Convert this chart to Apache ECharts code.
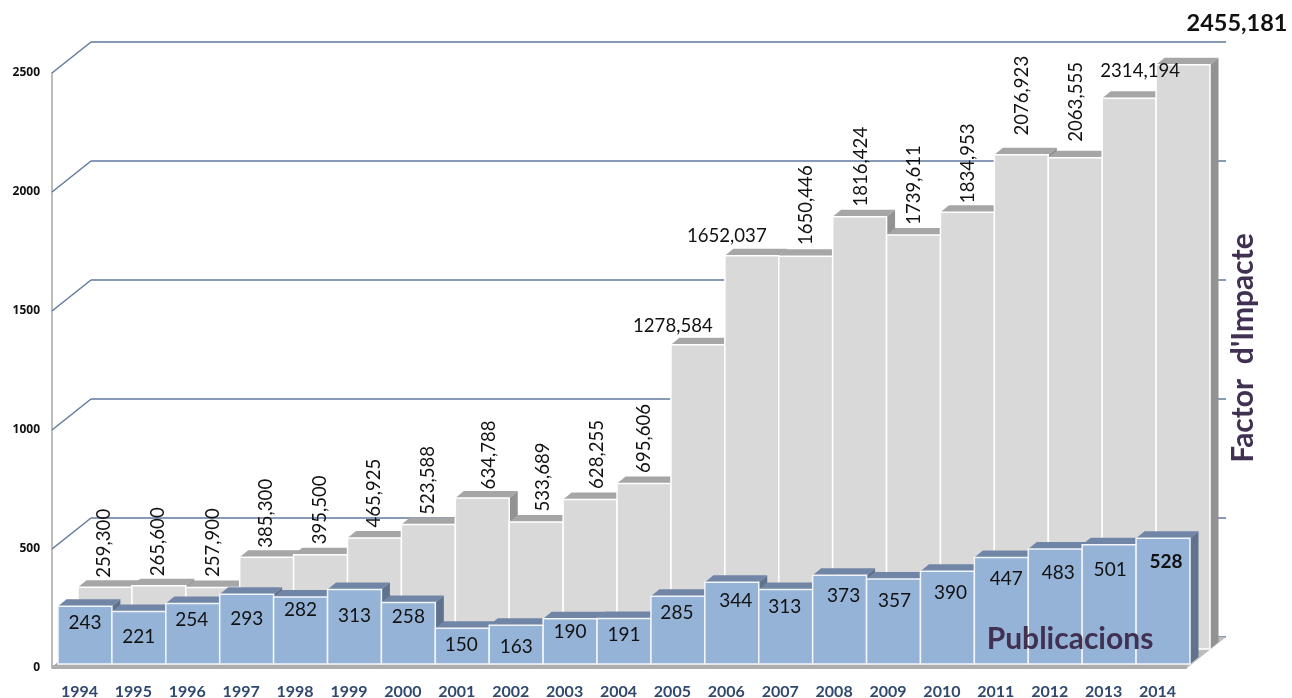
<!DOCTYPE html>
<html>
<head>
<meta charset="utf-8">
<style>html,body{margin:0;padding:0;background:#fff}#c{width:1292px;height:698px}body{overflow:hidden}</style>
<script src="https://cdn.jsdelivr.net/npm/echarts@6/dist/echarts.min.js"></script>
</head>
<body>
<div id="c"></div>
<script>
// ---- data ----
const years = ['1994','1995','1996','1997','1998','1999','2000','2001','2002','2003','2004','2005','2006','2007','2008','2009','2010','2011','2012','2013','2014'];
const factorImpacte = [259.3,265.6,257.9,385.3,395.5,465.925,523.588,634.788,533.689,628.255,695.606,1278.584,1652.037,1650.446,1816.424,1739.611,1834.953,2076.923,2063.555,2314.194,2455.181];
const publicacions = [243,221,254,293,282,313,258,150,163,190,191,285,344,313,373,357,390,447,483,501,528];
const axisTicks = [0,500,1000,1500,2000,2500];

// ---- layout of the text nudges (pixels, relative to each bar's top centre) ----
const factorDx = [-1,-1,0,-1,-1,0,0,7,7,7,0,-25,-25,0,1,0,1,1,1,11,54];
const factorDy = [-44,-44,-45,-44,-45,-45,-44,-43,-45,-45,-45,-19,-20,-51,-50,-50,-49,-59,-56,-27,-41];
const factorFlat = ['2005','2006','2013','2014'];
const pubDx = [0,0,-1,0,0,0,0,-1,0,0,0,-1,4,-1,4,1,3,5,3,1,3];
const pubDy = [17,25,16,25,13,26,14,17,22,13,16,17,19,17,21,22,22,21,24,25,24];

const FONT = 'Lato';
const DEPTH = [8.5,-7];
const WALL = [39,-31];
const PUB_SHIFT = [0,-4];
const FACTOR_SHIFT = [20,-19];

function bar3d(shift, front, top, side, edge) {
  return function (params, api) {
    const bw = api.size([1,0])[0];
    const b = api.coord([api.value(0),0]);
    const t = api.coord([api.value(0),api.value(1)]);
    const l = b[0]-bw/2+shift[0], r = b[0]+bw/2+shift[0];
    const y0 = b[1]+shift[1], y1 = t[1]+shift[1];
    const dx = DEPTH[0], dy = DEPTH[1];
    return {type:'group',children:[
      {type:'polygon',shape:{points:[[r,y1],[r+dx,y1+dy],[r+dx,y0+dy],[r,y0]]},style:{fill:side}},
      {type:'polygon',shape:{points:[[l,y1],[l+dx,y1+dy],[r+dx,y1+dy],[r,y1]]},style:{fill:top}},
      {type:'rect',shape:{x:l,y:y1,width:bw,height:y0-y1},style:{fill:front,stroke:edge,lineWidth:1.5}}
    ]};
  };
}

function fmt(v){return v.toFixed(3).replace('.',',');}

const rows = (vals)=>years.map((y,i)=>[y,vals[i]]);
const chart = echarts.init(document.getElementById('c'),null,{renderer:'canvas'});
const tickRows = axisTicks.map(v=>[years[0],v]);

chart.setOption({
  animation:false,
  backgroundColor:'#fff',
  grid:[
    {left:58,top:73,width:1132,height:595,outerBoundsMode:'none'},
    {left:91,top:42,width:1135,height:595,outerBoundsMode:'none'}
  ],
  xAxis:[
    {type:'category',gridIndex:0,data:years,axisLine:{show:false},axisTick:{show:false},
     axisLabel:{interval:0,margin:16,padding:[0,11,0,0],color:'#2f4a6e',fontFamily:FONT,fontWeight:'bold',fontSize:16}},
    {type:'category',gridIndex:1,data:years,show:false}
  ],
  yAxis:[
    {type:'value',gridIndex:0,min:0,max:2500,interval:500,offset:6,
     axisLine:{show:true,lineStyle:{color:'#bcbcbc',width:2}},axisTick:{show:false},splitLine:{show:false},
     axisLabel:{margin:12,padding:[3,0,0,0],color:'#111',fontFamily:'Open Sans',fontWeight:'bold',fontSize:12,formatter:(v)=>String(v)}},
    {type:'value',gridIndex:1,min:0,max:2500,interval:500,
     axisLine:{show:false},axisTick:{show:false},axisLabel:{show:false},
     splitLine:{show:true,lineStyle:{color:'#5f7a9e',width:1.5}}}
  ],
  series:[
    {name:'wallEdges',type:'custom',xAxisIndex:0,yAxisIndex:0,clip:false,silent:true,z:2,
     data:tickRows,encode:{x:0,y:1},
     renderItem(params,api){
       const x = params.coordSys.x-6;
       const y = api.coord([api.value(0),api.value(1)])[1];
       return {type:'line',shape:{x1:x,y1:y,x2:x+WALL[0],y2:y+WALL[1]},style:{stroke:'#5f7a9e',lineWidth:1.5}};
     }},
    {name:'floor',type:'custom',xAxisIndex:0,yAxisIndex:0,clip:false,silent:true,z:2,
     data:[tickRows[0]],encode:{x:0,y:1},
     renderItem(params,api){
       const g = params.coordSys;
       const y = api.coord([api.value(0),0])[1];
       const l = g.x-6, r = g.x+g.width-3;
       return {type:'group',children:[
         {type:'polygon',shape:{points:[[l,y],[l+WALL[0],y+WALL[1]],[r+WALL[0],y+WALL[1]],[r,y]]},style:{fill:'#bdbdbd'}},
         {type:'rect',shape:{x:l,y:y-3,width:r-l,height:4},style:{fill:'#adadad'}}
       ]};
     }},
    {name:"Factor d'Impacte",type:'custom',xAxisIndex:0,yAxisIndex:0,clip:false,silent:true,z:3,
     data:rows(factorImpacte),encode:{x:0,y:1},
     renderItem:bar3d(FACTOR_SHIFT,'#d9d9d9','#a6a6a6','#929292','#ffffff')},
    {name:'Publicacions',type:'custom',xAxisIndex:0,yAxisIndex:0,clip:false,silent:true,z:4,
     data:rows(publicacions),encode:{x:0,y:1},
     renderItem:bar3d(PUB_SHIFT,'#95b3d7','#7186a6','#5f728e','#f2f5f9')},
    {name:'factorLabels',type:'custom',xAxisIndex:0,yAxisIndex:0,clip:false,silent:true,z:5,
     data:rows(factorImpacte),encode:{x:0,y:1},
     renderItem(params,api){
       const i = params.dataIndex, v = factorImpacte[i];
       const p = api.coord([api.value(0),api.value(1)]);
       const flat = factorFlat.includes(years[i]);
       const last = i===years.length-1;
       return {type:'text',x:p[0]+FACTOR_SHIFT[0]+factorDx[i],y:p[1]+FACTOR_SHIFT[1]+factorDy[i],
         rotation:flat?0:Math.PI/2,
         style:{text:fmt(v),align:'center',verticalAlign:'middle',fill:'#111',fontFamily:FONT,
           fontSize:last?23.5:18.6,fontWeight:last?'bold':'normal'}};
     }},
    {name:'pubLabels',type:'custom',xAxisIndex:0,yAxisIndex:0,clip:false,silent:true,z:5,
     data:rows(publicacions),encode:{x:0,y:1},
     renderItem(params,api){
       const i = params.dataIndex;
       const p = api.coord([api.value(0),api.value(1)]);
       const last = i===years.length-1;
       return {type:'text',x:p[0]+PUB_SHIFT[0]+pubDx[i],y:p[1]+PUB_SHIFT[1]+pubDy[i],
         style:{text:String(publicacions[i]),align:'center',verticalAlign:'middle',fill:'#111',fontFamily:FONT,
           fontSize:19,fontWeight:last?'bold':'normal'}};
     }}
  ],
  graphic:[
    {type:'text',x:1243,y:348,rotation:Math.PI/2,z:10,silent:true,
     style:{text:"Factor  d'Impacte",align:'center',verticalAlign:'middle',fill:'#403152',fontFamily:FONT,fontWeight:'bold',fontSize:30}},
    {type:'text',x:1070,y:639,z:10,silent:true,
     style:{text:'Publicacions',align:'center',verticalAlign:'middle',fill:'#403152',fontFamily:FONT,fontWeight:'bold',fontSize:30}}
  ]
});
</script>
</body>
</html>
